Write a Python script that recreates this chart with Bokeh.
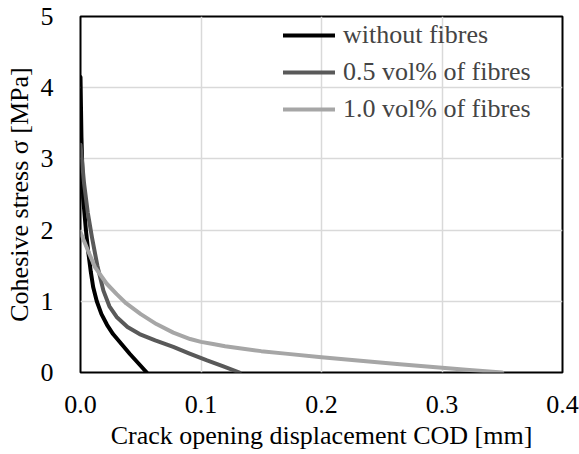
from bokeh.plotting import figure
from bokeh.models import (FixedTicker, Legend, LegendItem, Range1d, NumeralTickFormatter)
from bokeh.embed import file_html
from bokeh.resources import INLINE

# ---- data ----
cod_plain = [0.0, 0.0008, 0.0022, 0.0045, 0.0063, 0.0085, 0.0105, 0.0135, 0.0174, 0.022,
             0.027, 0.034, 0.041, 0.048, 0.055]
sig_plain = [4.15, 3.3, 2.45, 2.0, 1.71, 1.42, 1.2, 1.0, 0.82, 0.67,
             0.54, 0.4, 0.26, 0.13, 0.0]

cod_05 = [0.0, 0.003, 0.006, 0.0095, 0.014, 0.019, 0.024, 0.030, 0.039, 0.049,
          0.062, 0.077, 0.09, 0.105, 0.118, 0.132]
sig_05 = [3.2, 2.65, 2.25, 1.9, 1.5, 1.15, 0.93, 0.78, 0.64, 0.54,
          0.45, 0.36, 0.27, 0.17, 0.09, 0.0]

cod_10 = [0.0, 0.006, 0.012, 0.0216, 0.03, 0.038, 0.05, 0.063, 0.077, 0.091,
          0.1, 0.11, 0.12, 0.132, 0.15, 0.17, 0.2, 0.23, 0.265, 0.29, 0.32, 0.35]
sig_10 = [1.97, 1.72, 1.48, 1.25, 1.1, 0.97, 0.82, 0.68, 0.56, 0.47,
          0.43, 0.40, 0.37, 0.34, 0.30, 0.265, 0.215, 0.17, 0.115, 0.08, 0.04, 0.0]

series_names = ["without fibres", "0.5 vol% of fibres", "1.0 vol% of fibres"]
series_colors = ["#000000", "#595959", "#a6a6a6"]

x_ticks = [0.0, 0.1, 0.2, 0.3, 0.4]
y_ticks = [0, 1, 2, 3, 4, 5]

x_title = "Crack opening displacement COD [mm]"
y_title = "Cohesive stress σ [MPa]"

FONT = "Liberation Serif"

p = figure(width=579, height=454, output_backend="svg", toolbar_location=None,
           x_range=Range1d(0, 0.4), y_range=Range1d(0, 5),
           min_border_left=80, min_border_right=17, min_border_top=16, min_border_bottom=82)
p.background_fill_color = "white"
p.border_fill_color = "white"
p.outline_line_color = "black"
p.outline_line_width = 2

for ax in (p.xaxis[0], p.yaxis[0]):
    ax.axis_line_color = None
    ax.major_tick_line_color = None
    ax.minor_tick_line_color = None
    ax.major_label_text_font = FONT
    ax.major_label_text_font_size = "26px"
    ax.major_label_text_color = "black"
    ax.axis_label_text_font = FONT
    ax.axis_label_text_font_size = "26px"
    ax.axis_label_text_font_style = "normal"
    ax.axis_label_text_color = "black"

p.xaxis[0].ticker = FixedTicker(ticks=x_ticks)
p.xaxis[0].formatter = NumeralTickFormatter(format="0.0")
p.xaxis[0].major_label_standoff = 17
p.xaxis[0].axis_label = x_title
p.xaxis[0].axis_label_standoff = 5
p.yaxis[0].ticker = FixedTicker(ticks=y_ticks)
p.yaxis[0].major_label_standoff = 21
p.yaxis[0].axis_label = y_title
p.yaxis[0].axis_label_standoff = 4

p.xgrid[0].ticker = FixedTicker(ticks=x_ticks)
p.ygrid[0].ticker = FixedTicker(ticks=y_ticks)
for g in (p.xgrid[0], p.ygrid[0]):
    g.grid_line_color = "#d9d9d9"
    g.grid_line_width = 1.5

xs = [cod_plain, cod_05, cod_10]
ys = [sig_plain, sig_05, sig_10]
items = []
for x, y, name, col in zip(xs, ys, series_names, series_colors):
    r = p.line(x, y, line_color=col, line_width=4, line_join="round", line_cap="round")
    items.append(LegendItem(label=name, renderers=[r]))

legend = Legend(items=items, location=(203, 248), padding=0, margin=0,
                background_fill_alpha=0, border_line_alpha=0,
                label_text_font=FONT, label_text_font_size="26px",
                glyph_width=52, glyph_height=30, label_height=30, spacing=7,
                label_standoff=8)
p.add_layout(legend, "center")

open("out.html", "w").write(file_html(p, INLINE))
